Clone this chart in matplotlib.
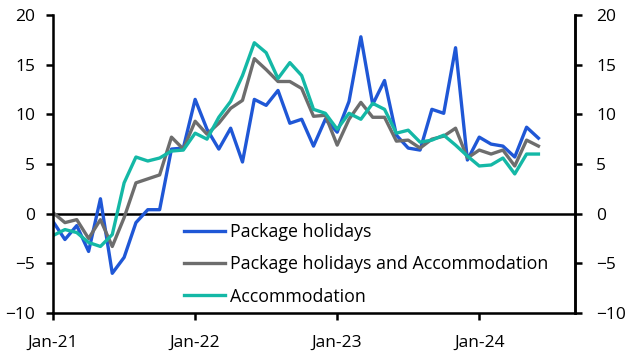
import matplotlib
matplotlib.use("Agg")
import matplotlib.pyplot as plt
import numpy as np

plt.rcParams['font.family'] = ['Open Sans', 'DejaVu Sans']

# monthly, Jan-21 .. Jun-24
package_holidays = [
    -0.8, -2.6, -1.2, -3.8, 1.5, -6.0, -4.4, -0.9, 0.4, 0.4, 6.5, 6.6,
    11.5, 8.5, 6.5, 8.6, 5.2, 11.5, 10.9, 12.4, 9.1, 9.5, 6.8, 9.5,
    8.2, 11.3, 17.8, 11.0, 13.4, 7.9, 6.6, 6.4, 10.5, 10.1, 16.7, 5.4,
    7.7, 7.0, 6.8, 5.7, 8.7, 7.6,
]
package_and_accommodation = [
    0.1, -0.9, -0.6, -2.5, -0.6, -3.3, -0.4, 3.1, 3.5, 3.9, 7.7, 6.5,
    9.3, 8.0, 9.1, 10.6, 11.4, 15.6, 14.5, 13.3, 13.3, 12.6, 9.8, 9.9,
    6.9, 9.5, 11.2, 9.7, 9.7, 7.3, 7.4, 6.6, 7.5, 7.8, 8.6, 5.6,
    6.4, 6.0, 6.4, 4.8, 7.4, 6.8,
]
accommodation = [
    -2.2, -1.6, -1.9, -2.9, -3.3, -2.1, 3.1, 5.7, 5.3, 5.6, 6.3, 6.4,
    8.1, 7.5, 9.7, 11.3, 13.9, 17.2, 16.2, 13.6, 15.2, 13.9, 10.5, 10.1,
    8.5, 10.1, 9.5, 11.1, 10.5, 8.1, 8.4, 7.2, 7.4, 7.9, 6.9, 5.8,
    4.8, 4.9, 5.6, 4.0, 6.0, 6.0,
]
series_labels = ['Package holidays', 'Package holidays and Accommodation', 'Accommodation']
tick_labels = ['Jan-21', 'Jan-22', 'Jan-23', 'Jan-24']

colors = ['#1f57d6', '#6d6d6d', '#14b8a6']

fig = plt.figure(figsize=(6.32, 3.64), dpi=100)
ax = fig.add_axes([0.084, 0.140, 0.826, 0.819])

months = np.arange(len(package_holidays))
for values, label, color in zip(
        [package_holidays, package_and_accommodation, accommodation],
        series_labels, colors):
    ax.plot(months, values, color=color, lw=2.4, label=label)

ax.axhline(0, color='black', lw=1.8, zorder=1)

ax.set_xlim(0, 44.1)
ax.set_ylim(-10, 20)
ax.set_yticks(np.arange(-10, 21, 5))
ax.set_xticks([0, 12, 24, 36])
ax.set_xticklabels(tick_labels)

for side in ['left', 'right', 'bottom']:
    ax.spines[side].set_linewidth(1.8)
ax.spines['top'].set_visible(False)

ax.tick_params(axis='both', direction='out', length=5, width=1.8,
               labelsize=12.5, colors='black')
ax.tick_params(axis='x', pad=10.5)
ax.tick_params(axis='y', pad=8)

ax2 = ax.twinx()
ax2.set_ylim(ax.get_ylim())
ax2.set_yticks(np.arange(-10, 21, 5))
ax2.spines['top'].set_visible(False)
ax2.spines['right'].set_linewidth(1.8)
ax2.tick_params(axis='y', direction='out', length=5, width=1.8,
                labelsize=12.5, pad=10)

ax.legend(
    loc='upper left',
    bbox_to_anchor=(0.291, 0.387),
    bbox_transform=fig.transFigure,
    frameon=False,
    fontsize=12.8,
    handlelength=2.3,
    handletextpad=0.3,
    labelspacing=0.8,
    borderpad=0,
    borderaxespad=0,
)

fig.savefig('out.png', dpi=100)
